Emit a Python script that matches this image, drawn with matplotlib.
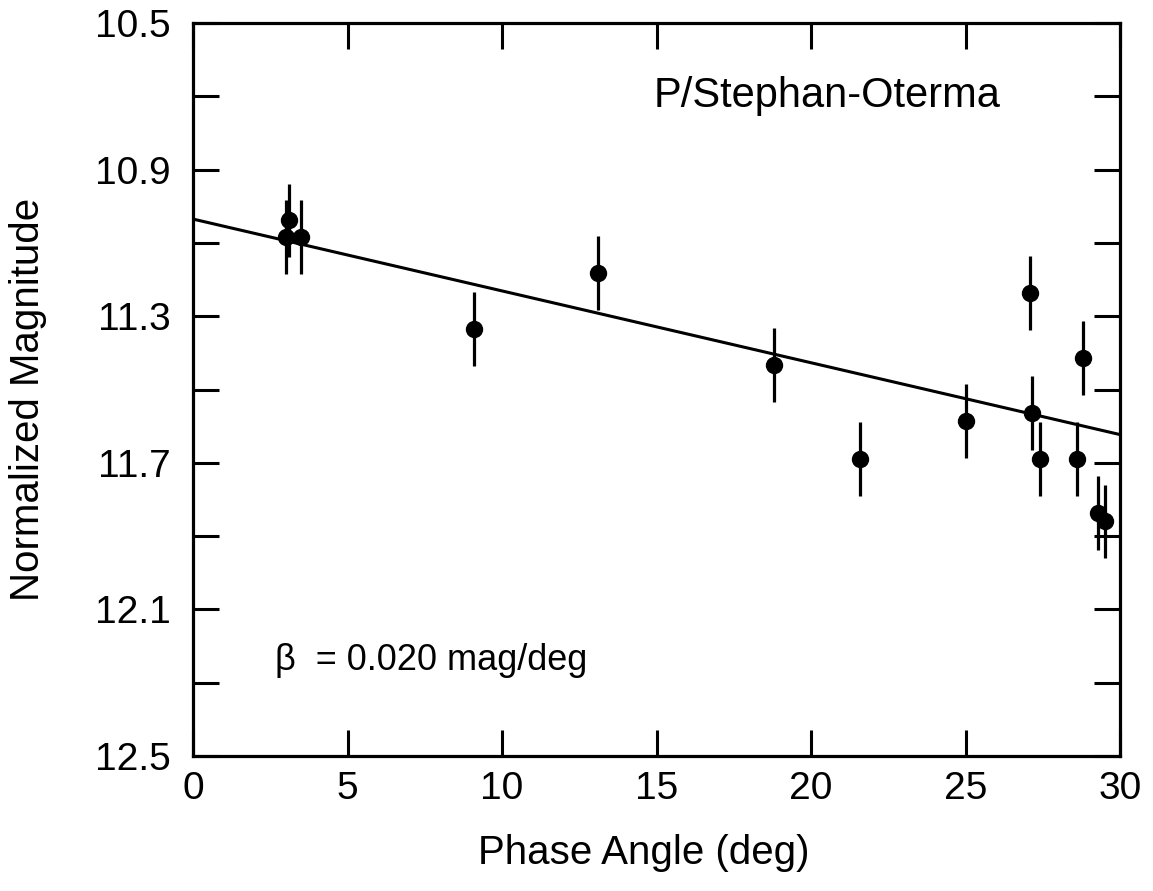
import matplotlib
matplotlib.use("Agg")
import matplotlib.pyplot as plt
import numpy as np

# phase angle (deg), normalized magnitude, error
phase = [3.0, 3.1, 3.5, 9.1, 13.1, 18.8, 21.6, 25.0, 27.1, 27.15, 27.4, 28.6, 28.8, 29.3, 29.5]
mag = [11.084, 11.038, 11.084, 11.335, 11.182, 11.433, 11.69, 11.586, 11.237, 11.564,
       11.69, 11.69, 11.414, 11.837, 11.86]
err = [0.1] * len(phase)

fit_intercept = 11.035
fit_slope = 0.0196

plt.rcParams['font.family'] = ['Liberation Sans', 'DejaVu Sans']

fig = plt.figure(figsize=(11.53, 8.91), dpi=100)
ax = fig.add_axes([0.1674, 0.1515, 0.804, 0.8227])

ax.errorbar(phase, mag, yerr=err, fmt='o', color='black', markersize=11.5,
            elinewidth=2.3, capsize=0)
xf = np.array([0, 30])
ax.plot(xf, fit_intercept + fit_slope * xf, color='black', linewidth=2.2)

ax.set_xlim(0, 30)
ax.set_ylim(12.5, 10.5)
ax.set_xticks(np.arange(0, 31, 5))
ax.set_yticks(np.arange(10.5, 12.51, 0.2), minor=True)
ax.set_yticks([10.5, 10.9, 11.3, 11.7, 12.1, 12.5])
ax.set_yticklabels(['10.5', '10.9', '11.3', '11.7', '12.1', '12.5'])

ax.tick_params(which='both', direction='in', top=True, right=True,
               length=19, width=2.2, labelsize=28)
ax.tick_params(axis='y', pad=16)
ax.tick_params(axis='x', pad=11)
for s in ax.spines.values():
    s.set_linewidth(2.3)

ax.set_xlabel('Phase Angle (deg)', fontsize=29, va='top')
ax.set_ylabel('Normalized Magnitude', fontsize=29)
ax.xaxis.set_label_coords(0.4865, -0.106)
ax.yaxis.set_label_coords(-0.158, 0.486)

ax.text(14.9, 10.70, 'P/Stephan-Oterma', fontsize=30, va='center')
ax.text(2.65, 12.24, 'β  = 0.020 mag/deg', fontsize=26, va='center')

fig.savefig('out.png', dpi=100)
